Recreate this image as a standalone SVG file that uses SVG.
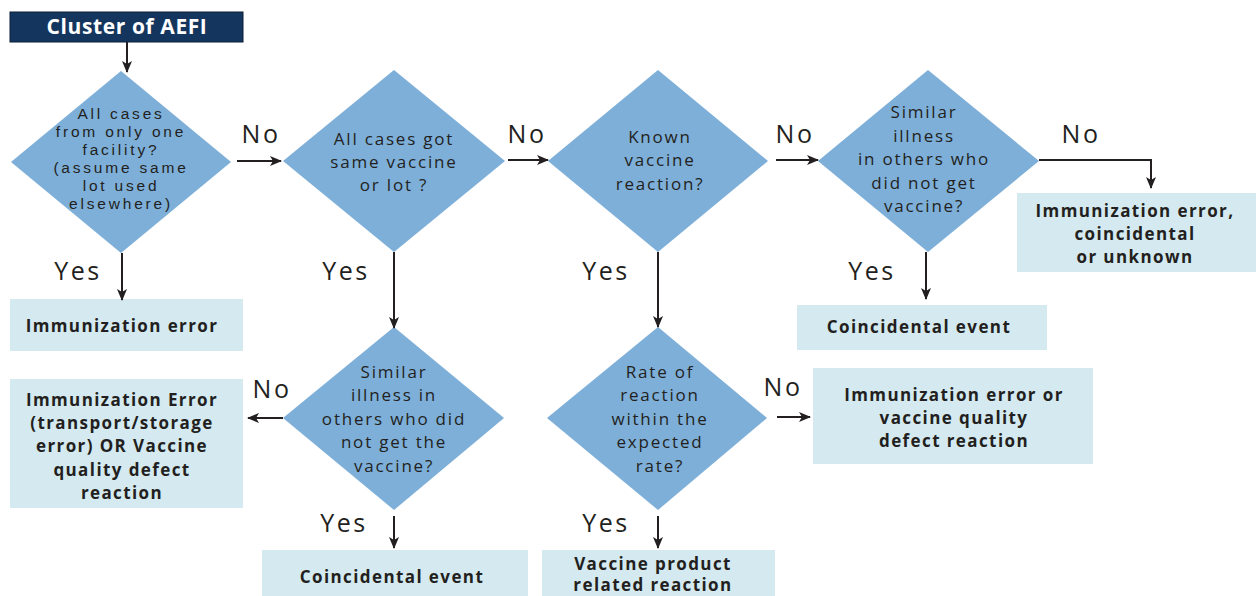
<svg xmlns="http://www.w3.org/2000/svg" width="1256" height="596" viewBox="0 0 1256 596">
<defs>
<marker id="ah" markerUnits="userSpaceOnUse" markerWidth="12" markerHeight="12" viewBox="0 0 12 12" refX="11" refY="6" orient="auto">
<path d="M0,1 L12,6 L0,11 L3,6 Z" fill="#231f20"/>
</marker>
<style>
.d{fill:#7dafd9}
.b{fill:#d4eaf0}
.dt{font-family:"Open Sans","Liberation Sans",sans-serif;font-size:17px;fill:#231f20;text-anchor:middle;letter-spacing:1.8px}
.dt1{font-family:"Liberation Sans","Open Sans",sans-serif;font-size:15.5px;fill:#231f20;text-anchor:middle;letter-spacing:2.8px}
.bt{font-family:"Open Sans","Liberation Sans",sans-serif;font-size:17px;font-weight:bold;fill:#231f20;text-anchor:middle;letter-spacing:1.4px}
.lbl{font-family:"Open Sans","Liberation Sans",sans-serif;font-size:25px;fill:#231f20;text-anchor:middle;letter-spacing:2.5px}
.c{stroke:#231f20;stroke-width:2;fill:none;marker-end:url(#ah)}
</style>
</defs>
<rect width="1256" height="596" fill="#ffffff"/>

<g id="start">
<rect x="10" y="12" width="233" height="30" fill="#14365e" stroke="#0b1f38" stroke-width="1"/>
<text x="127" y="34" font-family="Open Sans,Liberation Sans,sans-serif" font-size="21" font-weight="bold" fill="#ffffff" text-anchor="middle" letter-spacing="0.6">Cluster of AEFI</text>
</g>

<g id="q1">
<polygon class="d" points="121,71 231,162 121,253 11,162"/>
<text class="dt1"><tspan x="121" y="119">All cases</tspan><tspan x="121" y="137">from only one</tspan><tspan x="121" y="155">facility?</tspan><tspan x="121" y="173">(assume same</tspan><tspan x="121" y="191">lot used</tspan><tspan x="121" y="209">elsewhere)</tspan></text>
</g>

<g id="q2">
<polygon class="d" points="394,70 505,161 394,252 283,161"/>
<text class="dt"><tspan x="394" y="145">All cases got</tspan><tspan x="394" y="168">same vaccine</tspan><tspan x="394" y="191">or lot ?</tspan></text>
</g>

<g id="q3">
<polygon class="d" points="658,70 768,161 658,252 548,161"/>
<text class="dt"><tspan x="660" y="143">Known</tspan><tspan x="660" y="166">vaccine</tspan><tspan x="660" y="190">reaction?</tspan></text>
</g>

<g id="q4">
<polygon class="d" points="928,70 1039,161 928,252 818,161"/>
<text class="dt"><tspan x="924" y="118">Similar</tspan><tspan x="924" y="142">illness</tspan><tspan x="924" y="165">in others who</tspan><tspan x="924" y="189">did not get</tspan><tspan x="924" y="212">vaccine?</tspan></text>
</g>

<g id="q5">
<polygon class="d" points="394,327 504,418 394,510 283,418"/>
<text class="dt"><tspan x="394" y="378">Similar</tspan><tspan x="394" y="401">illness in</tspan><tspan x="394" y="425">others who did</tspan><tspan x="394" y="448">not get the</tspan><tspan x="394" y="472">vaccine?</tspan></text>
</g>

<g id="q6">
<polygon class="d" points="658,327 767,418 658,510 547,418"/>
<text class="dt"><tspan x="660" y="378">Rate of</tspan><tspan x="660" y="401">reaction</tspan><tspan x="660" y="425">within the</tspan><tspan x="660" y="448">expected</tspan><tspan x="660" y="472">rate?</tspan></text>
</g>

<g id="r1">
<rect class="b" x="10" y="299" width="233" height="52"/>
<text class="bt" x="122" y="332">Immunization error</text>
</g>

<g id="r2">
<rect class="b" x="10" y="379" width="233" height="129"/>
<text class="bt"><tspan x="122" y="406">Immunization Error</tspan><tspan x="122" y="429">(transport/storage</tspan><tspan x="122" y="452">error) OR Vaccine</tspan><tspan x="122" y="476">quality defect</tspan><tspan x="122" y="499">reaction</tspan></text>
</g>

<g id="r3">
<rect class="b" x="262" y="550" width="266" height="46"/>
<text class="bt" x="392" y="583">Coincidental event</text>
</g>

<g id="r4">
<rect class="b" x="542" y="550" width="233" height="46"/>
<text class="bt"><tspan x="653" y="570">Vaccine product</tspan><tspan x="653" y="591">related reaction</tspan></text>
</g>

<g id="r5">
<rect class="b" x="813" y="368" width="280" height="96"/>
<text class="bt"><tspan x="954" y="401">Immunization error or</tspan><tspan x="954" y="424">vaccine quality</tspan><tspan x="954" y="447">defect reaction</tspan></text>
</g>

<g id="r6">
<rect class="b" x="797" y="305" width="250" height="45"/>
<text class="bt" x="919" y="333">Coincidental event</text>
</g>

<g id="r7">
<rect class="b" x="1017" y="193" width="239" height="79"/>
<text class="bt"><tspan x="1135" y="217">Immunization error,</tspan><tspan x="1135" y="240">coincidental</tspan><tspan x="1135" y="263">or unknown</tspan></text>
</g>

<g id="connectors">
<line class="c" x1="127" y1="42" x2="127" y2="72"/>
<line class="c" x1="122" y1="253" x2="122" y2="300"/>
<line class="c" x1="237" y1="161" x2="281" y2="161"/>
<line class="c" x1="508" y1="160" x2="548" y2="160"/>
<line class="c" x1="776" y1="160" x2="818" y2="160"/>
<polyline class="c" points="1039,160 1151,160 1151,188"/>
<line class="c" x1="926" y1="252" x2="926" y2="299"/>
<line class="c" x1="394" y1="252" x2="394" y2="328"/>
<line class="c" x1="658" y1="252" x2="658" y2="327"/>
<line class="c" x1="283" y1="418" x2="248" y2="418"/>
<line class="c" x1="777" y1="417" x2="810" y2="417"/>
<line class="c" x1="394" y1="516" x2="394" y2="548"/>
<line class="c" x1="658" y1="516" x2="658" y2="548"/>
</g>

<g id="labels">
<text class="lbl" x="261" y="143">No</text>
<text class="lbl" x="527" y="143">No</text>
<text class="lbl" x="795" y="143">No</text>
<text class="lbl" x="1081" y="143">No</text>
<text class="lbl" x="78" y="280">Yes</text>
<text class="lbl" x="346" y="280">Yes</text>
<text class="lbl" x="606" y="280">Yes</text>
<text class="lbl" x="872" y="280">Yes</text>
<text class="lbl" x="272" y="398">No</text>
<text class="lbl" x="783" y="396">No</text>
<text class="lbl" x="344" y="532">Yes</text>
<text class="lbl" x="606" y="532">Yes</text>
</g>
</svg>
